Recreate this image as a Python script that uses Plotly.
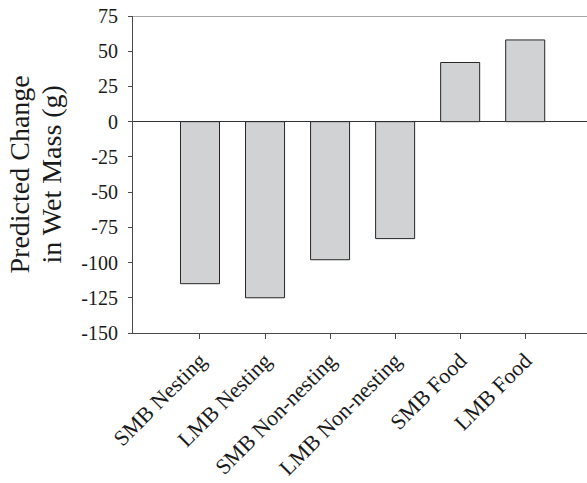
import plotly.graph_objects as go

# Predicted change in wet mass by group
categories = ["SMB Nesting", "LMB Nesting", "SMB Non-nesting",
              "LMB Non-nesting", "SMB Food", "LMB Food"]
wet_mass_change = [-115, -125, -98, -83, 42, 58]

y_tick_values = [-150, -125, -100, -75, -50, -25, 0, 25, 50, 75]
y_tick_labels = ["-150", "-125", "-100", "-75", "-50", "-25", "0", "25", "50", "75"]

y_title_lines = ["Predicted Change", "in Wet Mass (g)"]

serif = "Liberation Serif, Times New Roman, serif"
ink = "#1a1a1a"

fig = go.Figure(
    go.Bar(
        x=categories,
        y=wet_mass_change,
        width=0.6,
        marker=dict(color="#d1d2d4", line=dict(color="#262626", width=1)),
    )
)

fig.update_layout(
    width=587,
    height=483,
    margin=dict(l=133, r=0, t=16, b=150),
    paper_bgcolor="white",
    plot_bgcolor="white",
    showlegend=False,
    font=dict(family=serif, color=ink, size=20),
)

fig.update_xaxes(
    range=[-1.03, 5.95],
    showline=True,
    linecolor="#4a4a4a",
    linewidth=1,
    ticks="outside",
    ticklen=5,
    tickcolor="#4a4a4a",
    tickangle=-45,
    tickfont=dict(family=serif, size=22, color=ink),
    showgrid=False,
    zeroline=False,
)

fig.update_yaxes(
    range=[-150, 75],
    tickvals=y_tick_values,
    ticktext=y_tick_labels,
    showline=True,
    linecolor="#4a4a4a",
    linewidth=1,
    ticks="outside",
    ticklen=4,
    tickcolor="#4a4a4a",
    ticklabelstandoff=6,
    tickfont=dict(family=serif, size=20, color=ink),
    showgrid=False,
    zeroline=True,
    zerolinecolor="#333333",
    zerolinewidth=1,
)

# two-line vertical axis title, one rotated annotation per line
for line_text, shift in zip(y_title_lines, [-114, -82]):
    fig.add_annotation(
        text=line_text,
        xref="paper", yref="paper",
        x=0, y=0.5,
        xanchor="center", yanchor="middle",
        xshift=shift,
        textangle=-90,
        showarrow=False,
        font=dict(family=serif, size=28, color=ink),
    )

# frame line along the top of the plotting area
fig.add_shape(
    type="line", xref="paper", yref="y",
    x0=0, x1=1, y0=75, y1=75,
    line=dict(color="#8a8a8a", width=1.5),
)

fig.write_html("out.html")
